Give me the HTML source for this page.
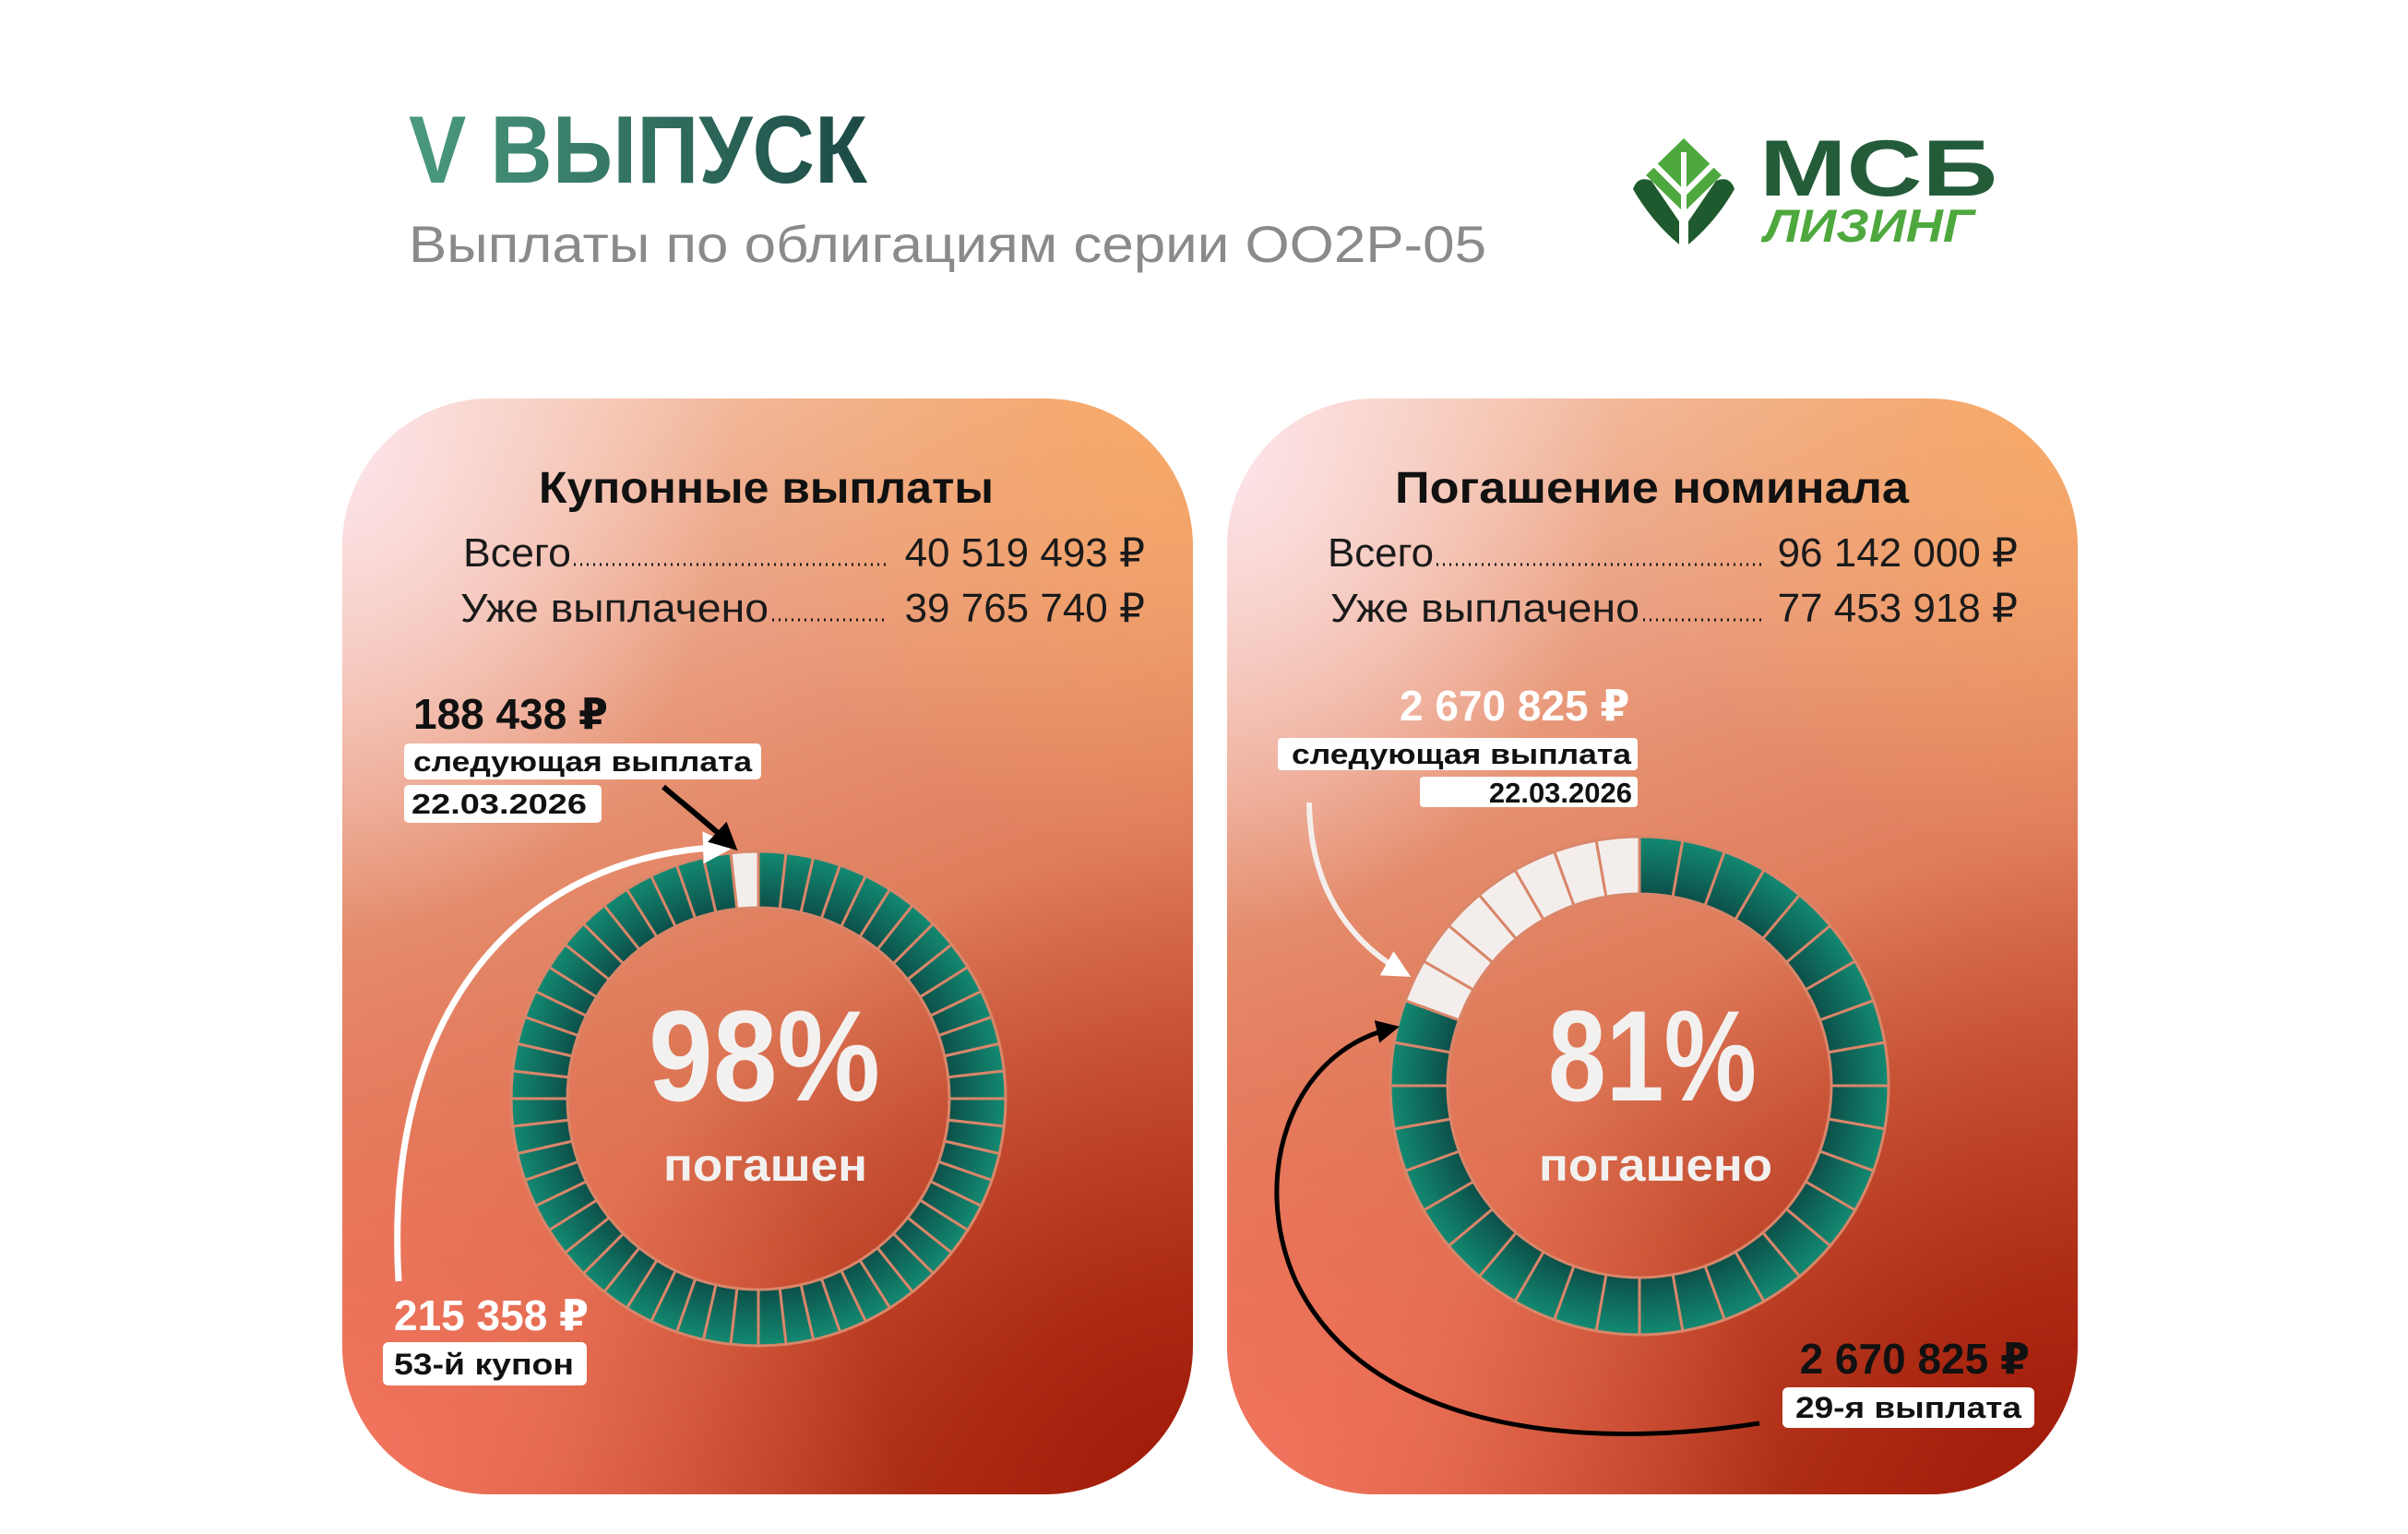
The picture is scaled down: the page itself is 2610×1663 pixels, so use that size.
<!DOCTYPE html>
<html><head><meta charset="utf-8">
<style>
html,body{margin:0;padding:0;background:#fff;}
body{width:2610px;height:1663px;position:relative;overflow:hidden;font-family:"Liberation Sans","DejaVu Sans",sans-serif;}
.card{position:absolute;top:432px;width:922px;height:1188px;border-radius:160px;overflow:hidden;
background:
radial-gradient(ellipse 420px 520px at 0% 5%, rgba(253,230,238,0.95), rgba(253,230,238,0) 100%),
radial-gradient(ellipse 520px 500px at 100% 0%, rgba(248,170,100,0.95), rgba(248,170,100,0) 100%),
radial-gradient(ellipse 600px 600px at 0% 100%, rgba(248,120,100,0.9), rgba(248,120,100,0) 100%),
radial-gradient(ellipse 700px 700px at 100% 100%, rgba(160,25,8,1), rgba(160,25,8,0) 100%),
linear-gradient(160deg,#f6c8ac 0%,#e48a6a 40%,#d4603e 75%,#b53a1c 100%);}
svg{position:absolute;left:0;top:0;}
</style></head><body>
<div class="card" style="left:371px"></div>
<div class="card" style="left:1330px"></div>
<svg id="s" width="2610" height="1663" viewBox="0 0 2610 1663" xmlns="http://www.w3.org/2000/svg">
<defs>
<linearGradient id="tg" x1="0" y1="0" x2="1" y2="0">
<stop offset="0" stop-color="#4a9a80"/><stop offset="1" stop-color="#1c4a44"/></linearGradient>
<radialGradient id="rg1" gradientUnits="userSpaceOnUse" cx="822" cy="1191" r="268">
<stop offset="0.77" stop-color="#0c4f49"/><stop offset="1" stop-color="#138a72"/></radialGradient>
<radialGradient id="rg2" gradientUnits="userSpaceOnUse" cx="1777" cy="1177" r="270">
<stop offset="0.77" stop-color="#0c4f49"/><stop offset="1" stop-color="#138a72"/></radialGradient>
<marker id="aw" viewBox="0 0 10 10" refX="8" refY="5" markerWidth="5" markerHeight="5" orient="auto"><path d="M0,0 L10,5 L0,10 z" fill="#fff"/></marker>
<marker id="ab" viewBox="0 0 10 10" refX="8" refY="5" markerWidth="5" markerHeight="5" orient="auto"><path d="M0,0 L10,5 L0,10 z" fill="#000"/></marker>
</defs>

<text x="443" y="198" font-size="104" font-weight="bold" fill="url(#tg)" textLength="497" lengthAdjust="spacingAndGlyphs">V ВЫПУСК</text>
<text x="443" y="284" font-size="56" fill="#8a8a8a" textLength="1168" lengthAdjust="spacingAndGlyphs">Выплаты по облигациям серии ОО2Р-05</text>

<g>
<polygon points="1825,150 1866,190 1825,230 1784,190" fill="#4ea83e"/>
<path d="M1825,165 L1825,265 M1793,178 L1825,210 L1857,178" stroke="#fff" stroke-width="6" fill="none"/>
<path d="M1770,205 Q1775,190 1790,196 L1820,240 L1820,265 Q1790,240 1770,205 z" fill="#1f5a2e"/>
<path d="M1880,205 Q1875,190 1860,196 L1830,240 L1830,265 Q1860,240 1880,205 z" fill="#1f5a2e"/>
<text x="1907" y="212" font-size="86" font-weight="bold" fill="#245c3a" textLength="258" lengthAdjust="spacingAndGlyphs">МСБ</text>
<text x="1912" y="262" font-size="50" font-weight="bold" font-style="italic" fill="#4ea83e" textLength="228" lengthAdjust="spacingAndGlyphs">ЛИЗИНГ</text>
</g>

<g font-weight="bold" fill="#111" font-size="48">
<text x="584" y="545" textLength="493" lengthAdjust="spacingAndGlyphs">Купонные выплаты</text>
<text x="1512" y="545" textLength="557" lengthAdjust="spacingAndGlyphs">Погашение номинала</text>
</g>
<g font-size="44" fill="#1a1a1a">
<text x="502" y="614" textLength="117" lengthAdjust="spacingAndGlyphs">Всего</text>
<text x="1241" y="614" text-anchor="end">40 519 493 ₽</text>
<text x="499" y="674" textLength="334" lengthAdjust="spacingAndGlyphs">Уже выплачено</text>
<text x="1241" y="674" text-anchor="end">39 765 740 ₽</text>
<text x="1439" y="614" textLength="115" lengthAdjust="spacingAndGlyphs">Всего</text>
<text x="2187" y="614" text-anchor="end">96 142 000 ₽</text>
<text x="1442" y="674" textLength="335" lengthAdjust="spacingAndGlyphs">Уже выплачено</text>
<text x="2187" y="674" text-anchor="end">77 453 918 ₽</text>
</g>
<g stroke="#1a1a1a" stroke-width="3" stroke-dasharray="2 5">
<line x1="622" y1="612" x2="962" y2="612"/>
<line x1="837" y1="672" x2="962" y2="672"/>
<line x1="1557" y1="612" x2="1910" y2="612"/>
<line x1="1781" y1="672" x2="1910" y2="672"/>
</g>

<g id="rings"></g>

<g font-weight="bold" fill="#f3f1f0">
<text x="703" y="1193" font-size="140" textLength="251" lengthAdjust="spacingAndGlyphs">98%</text>
<text x="719" y="1280" font-size="50" textLength="221" lengthAdjust="spacingAndGlyphs">погашен</text>
<text x="1678" y="1193" font-size="140" textLength="226" lengthAdjust="spacingAndGlyphs">81%</text>
<text x="1668" y="1280" font-size="50" textLength="253" lengthAdjust="spacingAndGlyphs">погашено</text>
</g>

<text x="448" y="790" font-size="46" font-weight="bold" fill="#111">188 438 ₽</text>
<rect x="438" y="806" width="387" height="39" rx="5" fill="#fff"/>
<text x="448" y="836" font-size="31" font-weight="bold" fill="#111" textLength="367" lengthAdjust="spacingAndGlyphs">следующая выплата</text>
<rect x="438" y="851" width="214" height="41" rx="5" fill="#fff"/>
<text x="446" y="882" font-size="31" font-weight="bold" fill="#111" textLength="190" lengthAdjust="spacingAndGlyphs">22.03.2026</text>
<text x="427" y="1442" font-size="46" font-weight="bold" fill="#fff">215 358 ₽</text>
<rect x="415" y="1455" width="221" height="47" rx="6" fill="#fff"/>
<text x="427" y="1490" font-size="32" font-weight="bold" fill="#111" textLength="195" lengthAdjust="spacingAndGlyphs">53-й купон</text>
<path d="M432,1389 C415,1100 560,925 790,918" stroke="#fff" stroke-width="7" fill="none" marker-end="url(#aw)"/>
<path d="M719,853 C745,875 770,895 795,918" stroke="#000" stroke-width="6" fill="none" marker-end="url(#ab)"/>

<text x="1517" y="781" font-size="46" font-weight="bold" fill="#fff">2 670 825 ₽</text>
<rect x="1385" y="800" width="390" height="35" rx="4" fill="#fff"/>
<text x="1400" y="828" font-size="31" font-weight="bold" fill="#111" textLength="368" lengthAdjust="spacingAndGlyphs">следующая выплата</text>
<rect x="1539" y="842" width="236" height="33" rx="4" fill="#fff"/>
<text x="1769" y="870" font-size="31" font-weight="bold" fill="#111" text-anchor="end">22.03.2026</text>
<path d="M1419,870 C1420,960 1460,1020 1524,1056" stroke="#f4eeec" stroke-width="6" fill="none" marker-end="url(#aw)"/>
<text x="2200" y="1489" font-size="46" font-weight="bold" fill="#111" text-anchor="end">2 670 825 ₽</text>
<rect x="1932" y="1504" width="273" height="44" rx="6" fill="#fff"/>
<text x="1946" y="1537" font-size="32" font-weight="bold" fill="#111" textLength="245" lengthAdjust="spacingAndGlyphs">29-я выплата</text>
<path d="M1907,1543 C1700,1575 1480,1545 1405,1390 C1355,1280 1395,1140 1512,1114" stroke="#000" stroke-width="5" fill="none" marker-end="url(#ab)"/>
</svg>
<script>
(function(){
var g=document.getElementById('rings');var ns='http://www.w3.org/2000/svg';
function ring(cx,cy,R,r,n,white,fill){
 for(var i=0;i<n;i++){
  var a0=i/n*2*Math.PI,a1=(i+1)/n*2*Math.PI;
  function P(rad,a){return (cx+rad*Math.sin(a)).toFixed(1)+','+(cy-rad*Math.cos(a)).toFixed(1);}
  var d='M'+P(R,a0)+' A'+R+','+R+' 0 0 1 '+P(R,a1)+' L'+P(r,a1)+' A'+r+','+r+' 0 0 0 '+P(r,a0)+'Z';
  var p=document.createElementNS(ns,'path');p.setAttribute('d',d);
  p.setAttribute('fill',i>=n-white?'#f3eeec':fill);
  p.setAttribute('stroke','#d9866a');p.setAttribute('stroke-width','3');
  g.appendChild(p);
 }
}
ring(822,1191,268,207,56,1,'url(#rg1)');
ring(1777,1177,270,208,36,7,'url(#rg2)');
})();
</script>
</body></html>
